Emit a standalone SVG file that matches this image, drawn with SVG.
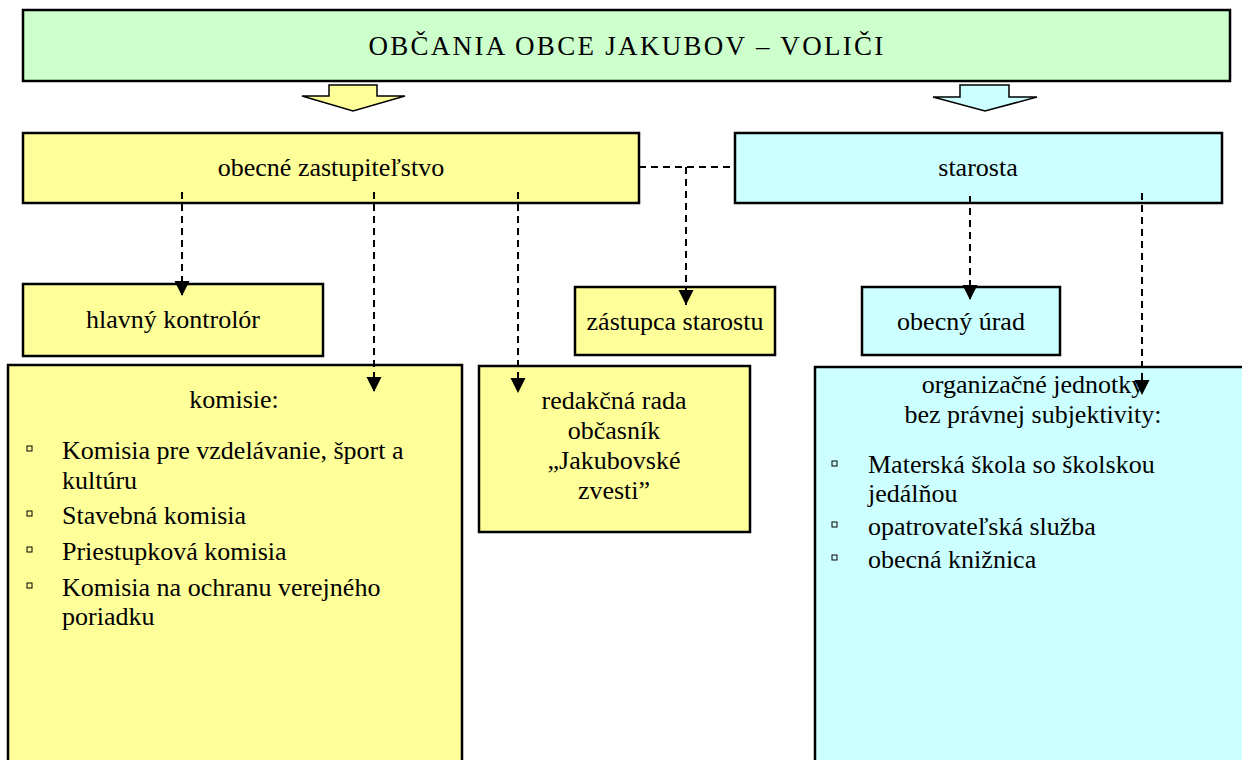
<svg xmlns="http://www.w3.org/2000/svg" width="1242" height="760" viewBox="0 0 1242 760">
<style>
.t{font-family:"Liberation Serif","Times New Roman",serif;font-size:26px;fill:#000}
.c{text-anchor:middle}
.box{stroke:#000;stroke-width:2.5}
.y{fill:#FFFF99}
.b{fill:#CCFFFF}
.g{fill:#CCFFCC}
.d{stroke:#000;stroke-width:2;stroke-dasharray:7,5;fill:none}
.bul{fill:none;stroke:#000;stroke-width:1}
</style>
<defs>
<marker id="ah" markerUnits="userSpaceOnUse" markerWidth="16" markerHeight="16" viewBox="0 0 16 16" refX="15" refY="8" orient="auto">
<path d="M0,0.5 L15,8 L0,15.5 Z" fill="#000"/>
</marker>
</defs>
<rect width="1242" height="760" fill="#fff"/>
<g id="volici">
<rect class="box g" x="23" y="10" width="1207" height="71"/>
<text class="t c" x="627" y="55" style="font-size:27px;letter-spacing:2.3px">OBČANIA OBCE JAKUBOV – VOLIČI</text>
</g>
<g id="blockarrows">
<path d="M329,85 L377,85 L377,96 L405,96 L353,111 L302,96 L329,96 Z" fill="#FFFF99" stroke="#000" stroke-width="1.5"/>
<path d="M960,85 L1009,85 L1009,97 L1037,97 L985,111 L933,97 L960,97 Z" fill="#CCFFFF" stroke="#000" stroke-width="1.5"/>
</g>
<g id="zastupitelstvo">
<rect class="box y" x="23" y="133" width="616" height="70"/>
<text class="t c" x="331" y="176">obecné zastupiteľstvo</text>
</g>
<g id="starosta">
<rect class="box b" x="735" y="133" width="487" height="70"/>
<text class="t c" x="978" y="176">starosta</text>
</g>
<g id="kontrolor">
<rect class="box y" x="23" y="284" width="300" height="72"/>
<text class="t c" x="173" y="328">hlavný kontrolór</text>
</g>
<g id="zastupca">
<rect class="box y" x="575" y="287" width="200" height="68"/>
<text class="t c" x="675" y="330">zástupca starostu</text>
</g>
<g id="urad">
<rect class="box b" x="862" y="287" width="198" height="68"/>
<text class="t c" x="961" y="330">obecný úrad</text>
</g>
<g id="komisie">
<rect class="box y" x="8" y="365" width="454" height="420"/>
<text class="t c" x="234" y="408">komisie:</text>
<rect class="bul" x="27" y="446" width="5" height="5"/>
<rect class="bul" x="27" y="511" width="5" height="5"/>
<rect class="bul" x="27" y="547" width="5" height="5"/>
<rect class="bul" x="27" y="583" width="5" height="5"/>
<text class="t" x="62" y="459">Komisia pre vzdelávanie, šport a</text>
<text class="t" x="62" y="489">kultúru</text>
<text class="t" x="62" y="524">Stavebná komisia</text>
<text class="t" x="62" y="560">Priestupková komisia</text>
<text class="t" x="62" y="596">Komisia na ochranu verejného</text>
<text class="t" x="62" y="625">poriadku</text>
</g>
<g id="redakcna">
<rect class="box y" x="479" y="366" width="271" height="166"/>
<text class="t c" x="614" y="409">redakčná rada</text>
<text class="t c" x="614" y="439">občasník</text>
<text class="t c" x="614" y="469">„Jakubovské</text>
<text class="t c" x="614" y="499">zvesti”</text>
</g>
<g id="jednotky">
<rect class="box b" x="815" y="367" width="450" height="420"/>
<text class="t c" x="1033" y="393">organizačné jednotky</text>
<text class="t c" x="1033" y="423">bez právnej subjektivity:</text>
<rect class="bul" x="832" y="461" width="5" height="5"/>
<rect class="bul" x="832" y="522" width="5" height="5"/>
<rect class="bul" x="832" y="555" width="5" height="5"/>
<text class="t" x="868" y="473">Materská škola so školskou</text>
<text class="t" x="868" y="502">jedálňou</text>
<text class="t" x="868" y="535">opatrovateľská služba</text>
<text class="t" x="868" y="568">obecná knižnica</text>
</g>
<g id="connectors">
<path class="d" d="M182,192 V296" marker-end="url(#ah)"/>
<path class="d" d="M374,192 V392" marker-end="url(#ah)"/>
<path class="d" d="M518,192 V393" marker-end="url(#ah)"/>
<path class="d" d="M639,167 H735"/>
<path class="d" d="M686,167 V305" marker-end="url(#ah)"/>
<path class="d" d="M970,196 V300" marker-end="url(#ah)"/>
<path class="d" d="M1142,193 V395" marker-end="url(#ah)"/>
</g>
</svg>
